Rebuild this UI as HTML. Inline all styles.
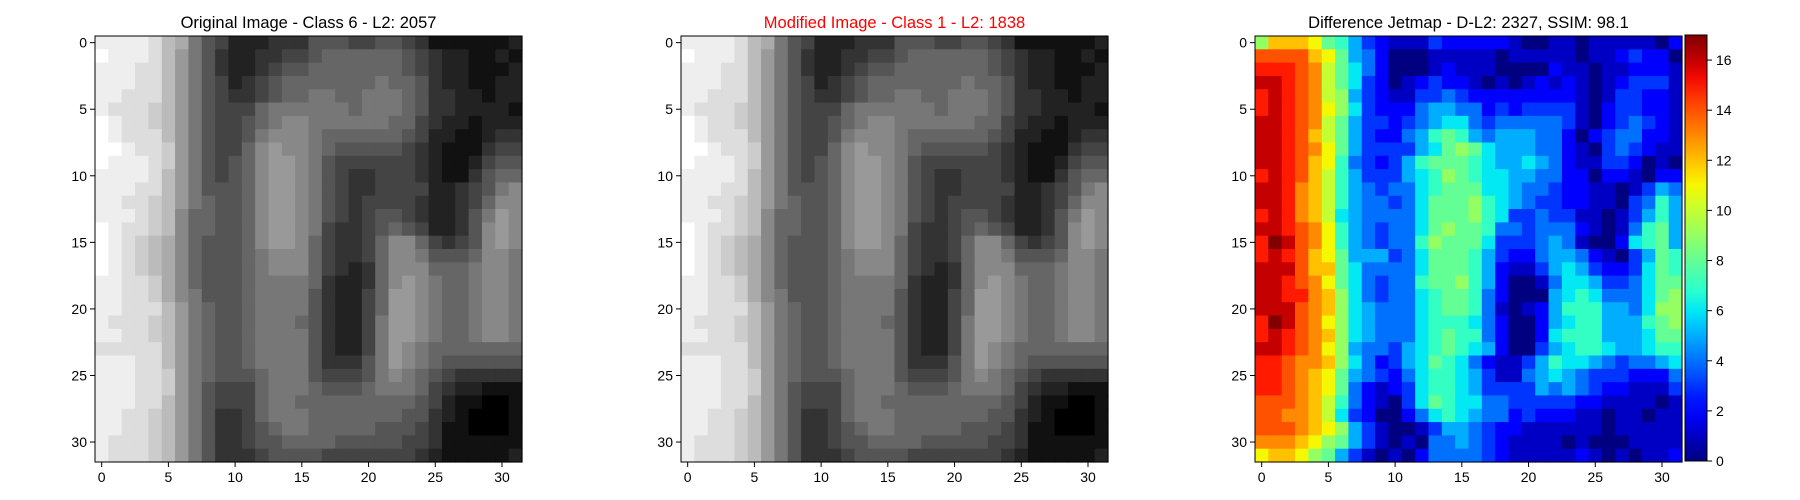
<!DOCTYPE html>
<html><head><meta charset="utf-8"><style>
html,body{margin:0;padding:0;background:#fff;}
svg{display:block;font-family:"Liberation Sans","DejaVu Sans",sans-serif;}
</style></head><body>
<svg id="fig" width="1800" height="500" viewBox="0 0 1800 500" xmlns="http://www.w3.org/2000/svg"></svg>
<script>
// ---- data ----
const originalRows = [
"eeeedba754222333555445543111111 2".replace(' ',''),
"feeedb97532233445666666543221121","eeeddb97532234556666666543221112","eeeddb97542345666666676653221122",
"eedddb97543345667766777653322122","edddcb97544467777776777653322221","feddcb97544567887777776643221222","fedddb97544578887666666542211233",
"ffeddc97544689887655555432111344","feeedc97545689987544444432112455","eeeedb97545689987543344432113566","eeeddb97555689987543344442234578",
"eeddcb97655689987543444432234688","eeedcb86655689987543455432235798","feddcb86655689987433456542235898","fedcba86555689986433468864345898",
"fedcba86555678886433468875556887","fedcba86555678886432368886667887","eeddca86555677776322368987667887","eeddca87555677775322469987667887",
"eedddb97655677775322469987667887","edddcb97655677765322479987667887","eeddcb97655677775322479987667887","dddddb97655677775322479876666666",
"eeeddb97655677775333579876555555","eeeddc97655567775444578765433333","eeeddc97544467776555677764322111","eeeddb97544467766666666654211001",
"eeddcb97533467776666666553210001","eeddcb97533456776666655543110001","edddcb97533455666655555443111111","edddcb97533345555444444432111112"];
const modifiedRows = [
"eeeedba75422233355544554311111 12".replace(' ',''),
"feeedb97532233445666666543221121","eeeddb97532234556666666543221112","eeeddb97542345666666676653221122",
"eedddb97543345667766777653322122","edddcb97544467777776777653322221","feddcb97544567887777776643221222","fedddb97544578887666666542211233",
"ffeddc97544689887655555432111344","feeedc97545689987544444432112455","eeeedb97545689987543344432113566","eeeddb97555689987543344442234578",
"eeddcb97655689987543444432234688","eeedcb86655689987543455432235798","feddcb86655689987433456542235898","fedcba86555689986433468864345898",
"fedcba86555678886433468875556887","fedcba86555678886432368886667887","eeddca86555677776322368987667887","eeddca87555677775322469987667887",
"eedddb97655677775322469987667887","edddcb97655677765322479987667887","eeddcb97655677775322479987667887","dddddb97655677775322479876666666",
"eeeddb97655677775333579876555555","eeeddc97655567775444578765433333","eeeddc97544467776555677764322111","eeeddb97544467766666666654211001",
"eeddcb97533467776666666553210001","eeddcb97533456776666655543110001","edddcb97533455666655555443111111","edddcb97533345555444444432111112"];
const diffRows = [
"9cccb87532111322222100110111110 2".replace(' ',''),
"eeeecb85420001111101111101123220","fffeda86420001211100002110112221","ggfeda86320123221010121210123331",
"fgfeda95321133432222222210133221","fgfedb96322245544232333310233221","ggfeda85332345664344444310234321","ggfeca85322457875455544202344221",
"ggfedb85333356898655544210343211","ggfecb74323578887655654211332010","fgfeca75333567987665544220221022","ggfdca75434467888665443221101354",
"ggfdca75443468889765433221103475","fgfdca65444468889763343311013575","ggfedb75434468988744344421014785","fhgedb75434479888633345410026785",
"fgfecb85553468887532245542103587","gggecc86444468887521135653223687","ggfedb86434478897520014665334688","ggffdc96434467887420005676444689",
"gggedc96544467887410125777554699","fhgedb96544467776420025677555789","fgfedc96544467877420026777555688","ggfedb95443567876520035677655677",
"ffeddc96423568764211357665434456","ffedcb85432467765311456543332224","ffedcb84212367765333354543221113","eeedca74210368766443333322111101",
"eeddca63200246765442322211011011","eeedcb95310013554322111111011111","dddcb985310104454321111010001111","bccb9853101024444321111121010112"];
const xTicks = [0,5,10,15,20,25,30];
const yTicks = [0,5,10,15,20,25,30];
const cbarTicks = [0,2,4,6,8,10,12,14,16];
const titles = ["Original Image - Class 6 - L2: 2057","Modified Image - Class 1 - L2: 1838","Difference Jetmap - D-L2: 2327, SSIM: 98.1"];
const vmax = 17;

const NS="http://www.w3.org/2000/svg";
const svg=document.getElementById('fig');
function mk(tag,attrs,parent){const e=document.createElementNS(NS,tag);for(const k in attrs)e.setAttribute(k,attrs[k]);(parent||svg).appendChild(e);return e;}
function parseRow(s){const a=s.replace(/ /g,'').split('').map(c=>parseInt(c,36));while(a.length<32)a.push(a[a.length-1]);return a.slice(0,32);}
function interp(pts,x){for(let i=1;i<pts.length;i++){if(x<=pts[i][0]){const a=pts[i-1],b=pts[i];return a[1]+(b[1]-a[1])*(x-a[0])/(b[0]-a[0]);}}return pts[pts.length-1][1];}
function jet(t){t=Math.max(0,Math.min(1,t));
 const r=interp([[0,0],[0.35,0],[0.66,1],[0.89,1],[1,0.5]],t);
 const g=interp([[0,0],[0.125,0],[0.375,1],[0.64,1],[0.91,0],[1,0]],t);
 const b=interp([[0,0.5],[0.11,1],[0.34,1],[0.65,0],[1,0]],t);
 return `rgb(${Math.round(r*255)},${Math.round(g*255)},${Math.round(b*255)})`;}
function gray(v){const c=Math.round(v*17);return `rgb(${c},${c},${c})`;}

const axesDefs=[{x:95,name:'original-image'},{x:681,name:'modified-image'},{x:1255,name:'difference-jetmap'}];
const AX_Y=36, AX_W=427, AX_H=426, N=32;
const datasets=[originalRows,modifiedRows,diffRows];

axesDefs.forEach((ax,ai)=>{
  const g=mk('g',{});
  
  
  const cw=AX_W/N, ch=AX_H/N;
  const xs=i=>ax.x+i*cw, ys=j=>AX_Y+j*ch;
  const rows=datasets[ai].map(parseRow);
  rows.forEach((row,j)=>{row.forEach((v,i)=>{
    const r=mk('rect',{x:xs(i).toFixed(2),y:ys(j).toFixed(2),width:(cw+0.6).toFixed(2),height:(ch+0.6).toFixed(2),fill: ai===2?jet(v/vmax):gray(v)},g);
    
    
  });});
  const fr=mk('rect',{x:ax.x,y:AX_Y,width:AX_W,height:AX_H,fill:'none',stroke:'#000','stroke-width':1},g);
  
  
  xTicks.forEach(t=>{const cx=xs(t+0.5);
    mk('line',{x1:cx,y1:AX_Y+AX_H,x2:cx,y2:AX_Y+AX_H+5,stroke:'#000','stroke-width':1},g);
    const tx=mk('text',{x:cx,y:AX_Y+AX_H+20,'text-anchor':'middle','font-size':14,fill:'#000'},g);
    tx.textContent=t;
    
    
  });
  yTicks.forEach(t=>{const cy=ys(t+0.5);
    mk('line',{x1:ax.x-5,y1:cy,x2:ax.x,y2:cy,stroke:'#000','stroke-width':1},g);
    const tx=mk('text',{x:ax.x-8,y:cy+5,'text-anchor':'end','font-size':14,fill:'#000'},g);
    tx.textContent=t;
    
    
  });
  const tt=mk('text',{x:ax.x+AX_W/2,y:28,'text-anchor':'middle','font-size':16.5,fill: ai===1?'#ff0000':'#000'},g);
  tt.textContent=titles[ai];
  
  
});

// colorbar
const CB_X=1685, CB_W=22, CB_Y=35, CB_H=426;
const cb=mk('g',{});


const defs=mk('defs',{});
const lg=mk('linearGradient',{id:'jetgrad',x1:0,y1:1,x2:0,y2:0},defs);
for(let k=0;k<=20;k++){mk('stop',{offset:(k/20),'stop-color':jet(k/20)},lg);}
mk('rect',{x:CB_X,y:CB_Y,width:CB_W,height:CB_H,fill:'url(#jetgrad)',stroke:'#000','stroke-width':1},cb);
const cbY=v=>CB_Y+CB_H-(v/vmax)*CB_H;
cbarTicks.forEach(t=>{const y=cbY(t);
  mk('line',{x1:CB_X+CB_W,y1:y,x2:CB_X+CB_W+5,y2:y,stroke:'#000','stroke-width':1},cb);
  const tx=mk('text',{x:CB_X+CB_W+9,y:y+5,'font-size':14,fill:'#000'},cb);
  tx.textContent=t;
  
  
});
</script>
</body></html>
